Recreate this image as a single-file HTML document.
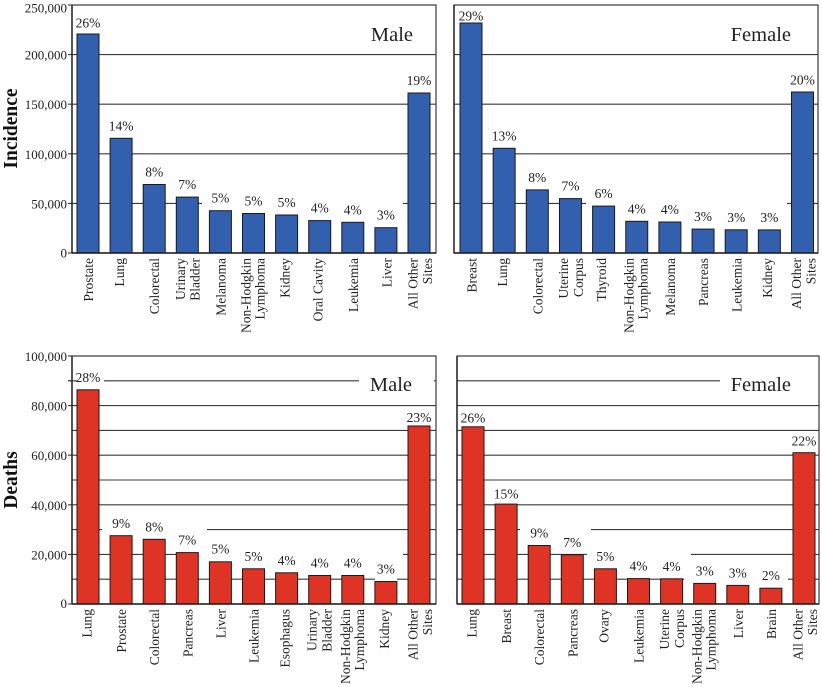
<!DOCTYPE html>
<html>
<head>
<meta charset="utf-8">
<style>
html,body{margin:0;padding:0;background:#fff;}
svg{display:block;}
text{font-family:"Liberation Serif","Times New Roman",serif;fill:#222;}
.g{stroke:#3a3a3a;stroke-width:1.1;fill:none;}
.f{stroke:#3a3a3a;stroke-width:1.2;fill:none;}
.ax{stroke:#1e1e1e;stroke-width:1.4;fill:none;}
.b{fill:#3260AE;stroke:#1a1a1a;stroke-width:1;}
.r{fill:#DF3425;stroke:#1a1a1a;stroke-width:1;}
.w{fill:#fff;stroke:none;}
.p{font-size:13.5px;text-anchor:middle;}
.c{font-size:13.5px;text-anchor:end;}
.y{font-size:13px;text-anchor:end;}
.t{font-size:20.5px;text-anchor:end;}
.at{font-size:19.5px;font-weight:bold;text-anchor:middle;fill:#111;}
</style>
</head>
<body>
<svg width="822" height="687" viewBox="0 0 822 687" xmlns="http://www.w3.org/2000/svg">
<rect x="0" y="0" width="822" height="687" fill="#fff"/>

<!-- ================= TOP LEFT ================= -->
<g>
<line class="g" x1="68" y1="54.6" x2="436" y2="54.6"/>
<line class="g" x1="68" y1="104.2" x2="436" y2="104.2"/>
<line class="g" x1="68" y1="153.8" x2="436" y2="153.8"/>
<line class="g" x1="68" y1="203.4" x2="436" y2="203.4"/>
<line class="g" x1="68" y1="5" x2="72" y2="5"/>
<line class="g" x1="68" y1="253" x2="72" y2="253"/>
<rect class="w" x="202" y="201.5" width="201" height="4"/>

<rect class="b" x="77" y="34" width="22" height="219"/>
<rect class="b" x="110.1" y="138.3" width="22" height="114.7"/>
<rect class="b" x="143.2" y="184.5" width="22" height="68.5"/>
<rect class="b" x="176.3" y="197.1" width="22" height="55.9"/>
<rect class="b" x="209.4" y="210.7" width="22" height="42.3"/>
<rect class="b" x="242.5" y="213.5" width="22" height="39.5"/>
<rect class="b" x="275.6" y="215" width="22" height="38"/>
<rect class="b" x="308.7" y="220.6" width="22" height="32.4"/>
<rect class="b" x="341.8" y="222.3" width="22" height="30.7"/>
<rect class="b" x="374.9" y="227.7" width="22" height="25.3"/>
<rect class="b" x="408" y="93" width="22" height="160"/>

<rect class="f" x="72" y="5" width="364" height="248"/>
<line class="ax" x1="72" y1="5" x2="72" y2="253"/>
<line class="ax" x1="72" y1="253" x2="436" y2="253"/>

<text class="p" x="88" y="27.5">26%</text>
<text class="p" x="121.1" y="130.3">14%</text>
<text class="p" x="154.2" y="176.5">8%</text>
<text class="p" x="187.3" y="189.1">7%</text>
<text class="p" x="220.4" y="202.7">5%</text>
<text class="p" x="253.5" y="205.5">5%</text>
<text class="p" x="286.6" y="207">5%</text>
<text class="p" x="319.7" y="212.6">4%</text>
<text class="p" x="352.8" y="214.3">4%</text>
<text class="p" x="385.9" y="219.7">3%</text>
<text class="p" x="419" y="85">19%</text>

<text class="y" x="67" y="12.5">250,000</text>
<text class="y" x="67" y="59.6">200,000</text>
<text class="y" x="67" y="109.2">150,000</text>
<text class="y" x="67" y="158.8">100,000</text>
<text class="y" x="67" y="208.4">50,000</text>
<text class="y" x="67" y="257.5">0</text>

<text class="t" x="413" y="41">Male</text>

<text class="c" transform="translate(93,258) rotate(-90)">Prostate</text>
<text class="c" transform="translate(124.1,258) rotate(-90)">Lung</text>
<text class="c" transform="translate(159.2,258) rotate(-90)">Colorectal</text>
<text class="c" transform="translate(184.8,258) rotate(-90)">Urinary</text>
<text class="c" transform="translate(199.3,258) rotate(-90)">Bladder</text>
<text class="c" transform="translate(225.4,258) rotate(-90)">Melanoma</text>
<text class="c" transform="translate(250.5,258) rotate(-90)">Non-Hodgkin</text>
<text class="c" transform="translate(264.5,258) rotate(-90)">Lymphoma</text>
<text class="c" transform="translate(289.3,258) rotate(-90)">Kidney</text>
<text class="c" transform="translate(322.7,258) rotate(-90)">Oral Cavity</text>
<text class="c" transform="translate(358,258) rotate(-90)">Leukemia</text>
<text class="c" transform="translate(391.5,258) rotate(-90)">Liver</text>
<text class="c" transform="translate(417.5,258) rotate(-90)">All Other</text>
<text class="c" transform="translate(432,258) rotate(-90)">Sites</text>
</g>

<!-- ================= TOP RIGHT ================= -->
<g>
<line class="g" x1="454" y1="54.6" x2="818" y2="54.6"/>
<line class="g" x1="454" y1="104.2" x2="818" y2="104.2"/>
<line class="g" x1="454" y1="153.8" x2="818" y2="153.8"/>
<line class="g" x1="454" y1="203.4" x2="818" y2="203.4"/>
<rect class="w" x="586" y="201.5" width="201" height="4"/>

<rect class="b" x="460" y="23" width="22" height="230"/>
<rect class="b" x="493.15" y="148.3" width="22" height="104.7"/>
<rect class="b" x="526.3" y="189.9" width="22" height="63.1"/>
<rect class="b" x="559.45" y="198.6" width="22" height="54.4"/>
<rect class="b" x="592.6" y="206.1" width="22" height="46.9"/>
<rect class="b" x="625.75" y="221.3" width="22" height="31.7"/>
<rect class="b" x="658.9" y="222" width="22" height="31"/>
<rect class="b" x="692.05" y="229.1" width="22" height="23.9"/>
<rect class="b" x="725.2" y="229.8" width="22" height="23.2"/>
<rect class="b" x="758.35" y="229.9" width="22" height="23.1"/>
<rect class="b" x="791.5" y="92" width="22" height="161"/>

<rect class="f" x="454" y="5" width="364" height="248"/>
<line class="ax" x1="454" y1="5" x2="454" y2="253"/>
<line class="ax" x1="454" y1="253" x2="818" y2="253"/>

<text class="p" x="471" y="20.5">29%</text>
<text class="p" x="504.15" y="140.3">13%</text>
<text class="p" x="537.3" y="182">8%</text>
<text class="p" x="570.45" y="190.6">7%</text>
<text class="p" x="603.6" y="198.1">6%</text>
<text class="p" x="636.75" y="213.3">4%</text>
<text class="p" x="669.9" y="214">4%</text>
<text class="p" x="703.05" y="221.1">3%</text>
<text class="p" x="736.2" y="221.8">3%</text>
<text class="p" x="769.35" y="221.9">3%</text>
<text class="p" x="802.5" y="84.5">20%</text>

<text class="t" x="791" y="41">Female</text>

<text class="c" transform="translate(476.5,258) rotate(-90)">Breast</text>
<text class="c" transform="translate(507.2,258) rotate(-90)">Lung</text>
<text class="c" transform="translate(542.3,258) rotate(-90)">Colorectal</text>
<text class="c" transform="translate(568,258) rotate(-90)">Uterine</text>
<text class="c" transform="translate(582.9,258) rotate(-90)">Corpus</text>
<text class="c" transform="translate(606.1,258) rotate(-90)">Thyroid</text>
<text class="c" transform="translate(633.5,258) rotate(-90)">Non-Hodgkin</text>
<text class="c" transform="translate(647.5,258) rotate(-90)">Lymphoma</text>
<text class="c" transform="translate(675,258) rotate(-90)">Melanoma</text>
<text class="c" transform="translate(708.2,258) rotate(-90)">Pancreas</text>
<text class="c" transform="translate(741.4,258) rotate(-90)">Leukemia</text>
<text class="c" transform="translate(772,258) rotate(-90)">Kidney</text>
<text class="c" transform="translate(801,258) rotate(-90)">All Other</text>
<text class="c" transform="translate(815.5,258) rotate(-90)">Sites</text>
</g>

<!-- ================= BOTTOM LEFT ================= -->
<g>
<line class="g" x1="68" y1="380.8" x2="436" y2="380.8"/>
<line class="g" x1="68" y1="405.6" x2="436" y2="405.6"/>
<line class="g" x1="72" y1="430.4" x2="436" y2="430.4"/>
<line class="g" x1="68" y1="455.2" x2="436" y2="455.2"/>
<line class="g" x1="72" y1="480" x2="436" y2="480"/>
<line class="g" x1="68" y1="504.8" x2="436" y2="504.8"/>
<line class="g" x1="72" y1="529.6" x2="436" y2="529.6"/>
<line class="g" x1="68" y1="554.4" x2="436" y2="554.4"/>
<line class="g" x1="72" y1="579.2" x2="436" y2="579.2"/>
<line class="g" x1="68" y1="356" x2="72" y2="356"/>
<line class="g" x1="68" y1="604" x2="72" y2="604"/>
<line class="g" x1="68" y1="380.8" x2="72" y2="380.8"/>
<rect class="w" x="77" y="378.8" width="27" height="4"/>
<rect class="w" x="359" y="378.8" width="75" height="4"/>
<rect class="w" x="102" y="527.6" width="105" height="4"/>
<rect class="w" x="198" y="552.4" width="205" height="4"/>
<rect class="w" x="375" y="577.2" width="22" height="4"/>

<rect class="r" x="77" y="389.8" width="22" height="214.2"/>
<rect class="r" x="110.1" y="535.7" width="22" height="68.3"/>
<rect class="r" x="143.2" y="539.3" width="22" height="64.7"/>
<rect class="r" x="176.3" y="552.6" width="22" height="51.4"/>
<rect class="r" x="209.4" y="561.8" width="22" height="42.2"/>
<rect class="r" x="242.5" y="568.8" width="22" height="35.2"/>
<rect class="r" x="275.6" y="572.8" width="22" height="31.2"/>
<rect class="r" x="308.7" y="575.5" width="22" height="28.5"/>
<rect class="r" x="341.8" y="575.5" width="22" height="28.5"/>
<rect class="r" x="374.9" y="581.5" width="22" height="22.5"/>
<rect class="r" x="408" y="426" width="22" height="178"/>

<rect class="f" x="72" y="356" width="364" height="248"/>
<line class="ax" x1="72" y1="356" x2="72" y2="604"/>
<line class="ax" x1="72" y1="604" x2="436" y2="604"/>

<text class="p" x="88" y="382.2">28%</text>
<text class="p" x="121.1" y="528">9%</text>
<text class="p" x="154.2" y="531.5">8%</text>
<text class="p" x="187.3" y="544.6">7%</text>
<text class="p" x="220.4" y="553.6">5%</text>
<text class="p" x="253.5" y="560.8">5%</text>
<text class="p" x="286.6" y="564.8">4%</text>
<text class="p" x="319.7" y="567.5">4%</text>
<text class="p" x="352.8" y="567.5">4%</text>
<text class="p" x="385.9" y="573.5">3%</text>
<text class="p" x="419" y="422">23%</text>

<text class="y" x="67" y="361">100,000</text>
<text class="y" x="67" y="410.6">80,000</text>
<text class="y" x="67" y="460.2">60,000</text>
<text class="y" x="67" y="509.8">40,000</text>
<text class="y" x="67" y="559.4">20,000</text>
<text class="y" x="67" y="608">0</text>

<text class="t" x="412" y="391">Male</text>

<text class="c" transform="translate(91.5,609) rotate(-90)">Lung</text>
<text class="c" transform="translate(126.1,609) rotate(-90)">Prostate</text>
<text class="c" transform="translate(159.2,609) rotate(-90)">Colorectal</text>
<text class="c" transform="translate(192.3,609) rotate(-90)">Pancreas</text>
<text class="c" transform="translate(225.4,609) rotate(-90)">Liver</text>
<text class="c" transform="translate(258.5,609) rotate(-90)">Leukemia</text>
<text class="c" transform="translate(289.6,609) rotate(-90)">Esophagus</text>
<text class="c" transform="translate(316.7,609) rotate(-90)">Urinary</text>
<text class="c" transform="translate(331.7,609) rotate(-90)">Bladder</text>
<text class="c" transform="translate(349.8,609) rotate(-90)">Non-Hodgkin</text>
<text class="c" transform="translate(363.8,609) rotate(-90)">Lymphoma</text>
<text class="c" transform="translate(388.9,609) rotate(-90)">Kidney</text>
<text class="c" transform="translate(417.5,609) rotate(-90)">All Other</text>
<text class="c" transform="translate(432,609) rotate(-90)">Sites</text>
</g>

<!-- ================= BOTTOM RIGHT ================= -->
<g>
<line class="g" x1="457" y1="380.8" x2="819" y2="380.8"/>
<line class="g" x1="457" y1="405.6" x2="819" y2="405.6"/>
<line class="g" x1="457" y1="430.4" x2="819" y2="430.4"/>
<line class="g" x1="457" y1="455.2" x2="819" y2="455.2"/>
<line class="g" x1="457" y1="480" x2="819" y2="480"/>
<line class="g" x1="457" y1="504.8" x2="819" y2="504.8"/>
<line class="g" x1="457" y1="529.6" x2="819" y2="529.6"/>
<line class="g" x1="457" y1="554.4" x2="819" y2="554.4"/>
<line class="g" x1="457" y1="579.2" x2="819" y2="579.2"/>
<rect class="w" x="720" y="378.8" width="98.5" height="4"/>
<rect class="w" x="520" y="527.6" width="71" height="4"/>
<rect class="w" x="587" y="552.4" width="104" height="4"/>
<rect class="w" x="684" y="577.2" width="104" height="4"/>

<rect class="r" x="462" y="426.8" width="22" height="177.2"/>
<rect class="r" x="495.1" y="504.1" width="22" height="99.9"/>
<rect class="r" x="528.2" y="545.5" width="22" height="58.5"/>
<rect class="r" x="561.3" y="554.8" width="22" height="49.2"/>
<rect class="r" x="594.4" y="568.8" width="22" height="35.2"/>
<rect class="r" x="627.5" y="578.6" width="22" height="25.4"/>
<rect class="r" x="660.6" y="578.8" width="22" height="25.2"/>
<rect class="r" x="693.7" y="583.4" width="22" height="20.6"/>
<rect class="r" x="726.8" y="585.4" width="22" height="18.6"/>
<rect class="r" x="759.9" y="588.2" width="22" height="15.8"/>
<rect class="r" x="793" y="452.7" width="22" height="151.3"/>

<rect class="f" x="457" y="356" width="362" height="248"/>
<line class="ax" x1="457" y1="356" x2="457" y2="604"/>
<line class="ax" x1="457" y1="604" x2="819" y2="604"/>

<text class="p" x="473" y="422.5">26%</text>
<text class="p" x="506.1" y="498.5">15%</text>
<text class="p" x="539.2" y="537.5">9%</text>
<text class="p" x="572.3" y="546.8">7%</text>
<text class="p" x="605.4" y="560.8">5%</text>
<text class="p" x="638.5" y="570.6">4%</text>
<text class="p" x="671.6" y="570.8">4%</text>
<text class="p" x="704.7" y="575.4">3%</text>
<text class="p" x="737.8" y="577.4">3%</text>
<text class="p" x="770.9" y="580.2">2%</text>
<text class="p" x="804" y="445.5">22%</text>

<text class="t" x="791" y="391">Female</text>

<text class="c" transform="translate(476.5,609) rotate(-90)">Lung</text>
<text class="c" transform="translate(511.1,609) rotate(-90)">Breast</text>
<text class="c" transform="translate(544.2,609) rotate(-90)">Colorectal</text>
<text class="c" transform="translate(577.3,609) rotate(-90)">Pancreas</text>
<text class="c" transform="translate(608.4,609) rotate(-90)">Ovary</text>
<text class="c" transform="translate(643.5,609) rotate(-90)">Leukemia</text>
<text class="c" transform="translate(669.1,609) rotate(-90)">Uterine</text>
<text class="c" transform="translate(684,609) rotate(-90)">Corpus</text>
<text class="c" transform="translate(701.7,609) rotate(-90)">Non-Hodgkin</text>
<text class="c" transform="translate(715.7,609) rotate(-90)">Lymphoma</text>
<text class="c" transform="translate(742.8,609) rotate(-90)">Liver</text>
<text class="c" transform="translate(775.9,609) rotate(-90)">Brain</text>
<text class="c" transform="translate(802.5,609) rotate(-90)">All Other</text>
<text class="c" transform="translate(817,609) rotate(-90)">Sites</text>
</g>

<!-- Axis titles -->
<text class="at" transform="translate(17,128.5) rotate(-90)">Incidence</text>
<text class="at" transform="translate(17,480) rotate(-90)">Deaths</text>
</svg>
</body>
</html>
